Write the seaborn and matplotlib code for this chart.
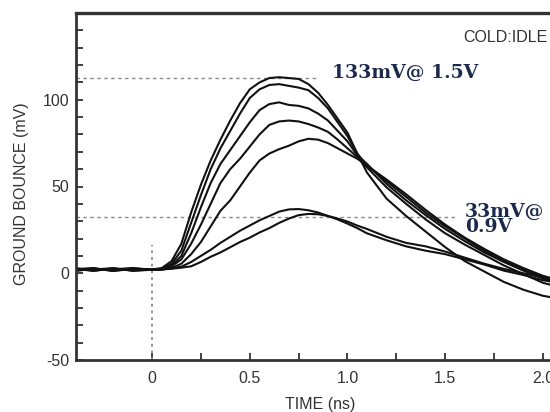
import matplotlib
matplotlib.use("Agg")
import matplotlib.pyplot as plt
from matplotlib.ticker import FixedLocator, FuncFormatter
import seaborn as sns
import pandas as pd

# ---------------- data ----------------
time_ns = [-0.39, -0.3, -0.2, -0.1, 0.0,
           0.05, 0.1, 0.15, 0.2, 0.25, 0.3, 0.35, 0.4, 0.45, 0.5, 0.55,
           0.6, 0.65, 0.7, 0.75, 0.8, 0.85, 0.9, 0.95, 1.0, 1.05, 1.1,
           1.2, 1.3, 1.4, 1.5, 1.6, 1.7, 1.8, 1.9, 2.0, 2.1]

curve_a = [2.5, 1.4, 2.9, 1.6, 2.2, 3, 7, 17, 35, 51, 65, 77, 88, 98, 106, 110,
           112.5, 113, 112.5, 112, 109, 104, 97, 89, 81, 69, 58,
           43, 33, 24, 15, 7, 1, -5, -9.5, -13, -15]
curve_b = [1.4, 2.8, 1.5, 2.9, 2.0, 2.5, 5.5, 13, 29, 45, 60, 72, 82, 92, 101, 106,
           108.5, 109, 108, 107, 105.5, 101, 95, 87, 79, 69, 62,
           53, 44, 35, 27, 20, 13, 7, 2, -2, -5]
curve_c = [2.4, 3.0, 1.4, 2.5, 2.1, 2.5, 4.5, 10, 23, 38, 52, 63, 71, 79, 87, 94,
           97.5, 98.5, 97, 96.5, 95, 92, 88, 82, 76, 68, 63,
           51.5, 42, 33.5, 25.5, 18.5, 12, 6.5, 1.5, -3, -6]
curve_d = [1.6, 2.2, 2.9, 1.4, 2.0, 2.3, 4, 8, 17, 28, 40, 52, 60, 66, 73, 80,
           85.5, 87.5, 88, 87.5, 86, 84, 81.5, 77, 72, 67, 61,
           49.5, 40, 31, 23, 16.5, 10.5, 4.5, -0.5, -5.5, -8.5]
curve_e = [2.9, 1.6, 2.3, 3.0, 2.0, 2.2, 3, 5.5, 11, 18, 27, 36, 42, 50, 58, 65,
           69, 71.5, 73.5, 76, 77.5, 77, 75, 72, 69, 66, 62,
           54, 45.5, 36.5, 28, 20.5, 14, 8, 3, -1.5, -4.5]
curve_f = [2.0, 2.6, 1.4, 2.4, 2.0, 2.2, 2.8, 3.8, 6.5, 10, 13.5, 17.5, 21, 24.5, 27.5, 30.5,
           33, 35.5, 36.8, 37, 36.3, 35, 33, 31.5, 29.8, 27.5, 25.5,
           21, 17.5, 15.5, 12.5, 9, 5.5, 2.5, 0, -2.5, -4.5]
curve_g = [2.5, 1.5, 2.6, 1.7, 2.0, 2.2, 2.6, 3.2, 4, 6.5, 9.5, 12, 15, 18, 20.5, 23.5,
           26, 29, 31.5, 33.5, 34.2, 34, 33, 31, 28.6, 26, 23,
           19, 15.5, 13, 11, 8, 5, 1.5, -1, -4, -6]

curve_names = ["A", "B", "C", "D", "E", "F", "G"]
curves = [curve_a, curve_b, curve_c, curve_d, curve_e, curve_f, curve_g]

x_major = [0.0, 0.5, 1.0, 1.5, 2.0]
x_minor = [0.25, 0.75, 1.25, 1.75]
y_major = [-50, 0, 50, 100]
y_minor = [-40, -30, -20, -10, 10, 20, 30, 40, 60, 70, 80, 90, 110, 120, 130, 140]

ref_levels = [112.5, 32.5]      # dashed reference levels (mV)
ref_ends = [0.845, 1.565]       # where each dashed line stops (ns)
marker_top = 16                 # top of dotted t=0 line (mV)

label_high = "133mV@ 1.5V"
label_low = "33mV@\n0.9V"
corner_text = "COLD:IDLE"
x_title = "TIME (ns)"
y_title = "GROUND BOUNCE (mV)"

# ---------------- build long table ----------------
rows = []
for name, vals in zip(curve_names, curves):
    for t, v in zip(time_ns, vals):
        rows.append({"t": t, "v": v, "curve": name})
df = pd.DataFrame(rows)

# ---------------- plotting ----------------
sns.set_style("white")
plt.rcParams["font.family"] = ["Liberation Sans", "DejaVu Sans"]

fig = plt.figure(figsize=(5.5, 4.12), dpi=100)
ax = fig.add_axes([76 / 550, 1 - 360 / 412, 1 - 76 / 550, (360 - 13) / 412])

xlim = (-0.389, 2.036)
ylim = (-50, 150)

for lvl, end in zip(ref_levels, ref_ends):
    ax.hlines(lvl, xlim[0], end, colors="#8a8a8a", linestyles=(0, (2.5, 2.5)), lw=1.0)
ax.vlines(0, ylim[0], marker_top, colors="#8a8a8a", linestyles=(0, (1.5, 2.2)), lw=1.3)

sns.lineplot(data=df, x="t", y="v", units="curve", estimator=None,
             color="#111111", lw=1.5, ax=ax, legend=False, sort=False)

ax.set_xlim(*xlim)
ax.set_ylim(*ylim)

ax.xaxis.set_major_locator(FixedLocator(x_major))
ax.xaxis.set_minor_locator(FixedLocator(x_minor))
ax.yaxis.set_major_locator(FixedLocator(y_major))
ax.yaxis.set_minor_locator(FixedLocator(y_minor))
ax.xaxis.set_major_formatter(FuncFormatter(lambda v, p: "0" if v == 0 else f"{v:.1f}"))
ax.yaxis.set_major_formatter(FuncFormatter(lambda v, p: f"{int(v)}"))

ax.tick_params(which="both", direction="in", length=5, width=1.3, color="#333333",
               labelsize=11.5, labelcolor="#333333",
               bottom=True, left=True, top=False, right=False)
ax.tick_params(axis="x", which="both", pad=8)
ax.tick_params(axis="y", which="both", pad=5)

for side in ["left", "bottom", "top"]:
    ax.spines[side].set_color("#333333")
    ax.spines[side].set_linewidth(2.0)
ax.spines["top"].set_linewidth(2.4)
ax.spines["right"].set_visible(False)

ax.set_xlabel(x_title, fontsize=11.5, color="#333333")
ax.set_ylabel(y_title, fontsize=11.5, color="#333333")
ax.xaxis.set_label_coords(0.515, -0.108)
ax.yaxis.set_label_coords(-0.100, 0.48)

fig.text(548 / 550, 1 - 38 / 412, corner_text, ha="right", va="center",
         fontsize=11.5, color="#333333")
ax.text(0.92, 115.2, label_high, ha="left", va="center", fontsize=13.5,
        family="DejaVu Serif", weight="bold", color="#1c2b4d")
ax.text(1.60, 31.0, label_low, ha="left", va="center", fontsize=13.5,
        family="DejaVu Serif", weight="bold", color="#1c2b4d", linespacing=0.85)

fig.savefig("out.png", dpi=100)
